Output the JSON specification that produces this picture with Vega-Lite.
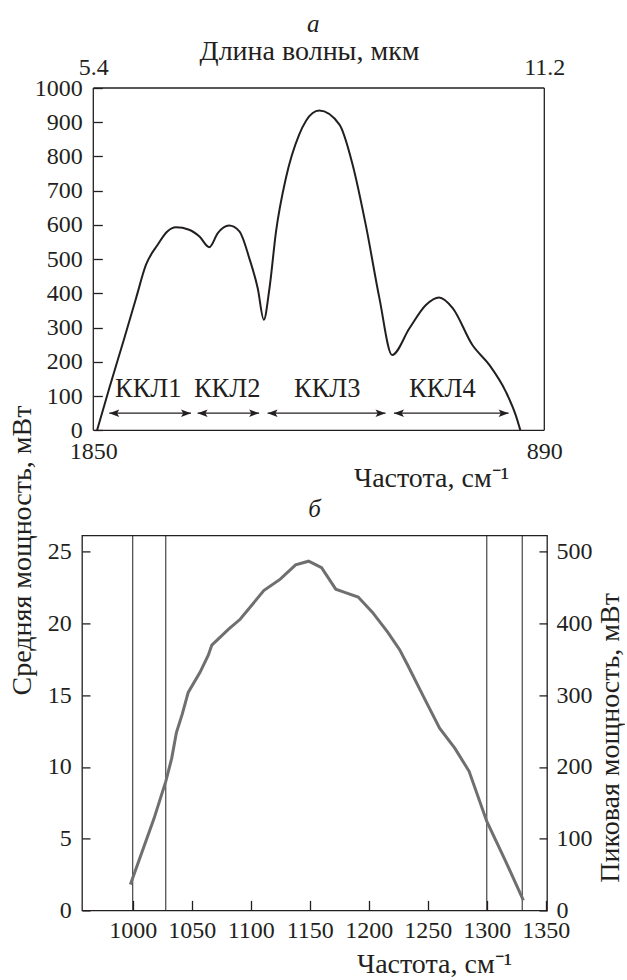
{
  "$schema": "https://vega.github.io/schema/vega-lite/v6.json",
  "background": "white",
  "padding": {"left": 8, "top": 12, "right": 0, "bottom": 0},
  "bounds": "flush",
  "spacing": 104.4,
  "config": {
    "font": "Liberation Serif",
    "view": {"stroke": null},
    "axis": {
      "labelFont": "Liberation Serif", "titleFont": "Liberation Serif",
      "labelFontSize": 24, "titleFontSize": 28, "titleFontWeight": "normal",
      "labelColor": "#231f20", "titleColor": "#231f20",
      "grid": false, "labelFlush": false, "labelOverlap": false, "format": "d"
    },
    "title": {"font": "Liberation Serif", "fontSize": 25, "fontWeight": "normal", "fontStyle": "italic", "color": "#231f20"}
  },
  "vconcat": [
    {
      "width": 462.3,
      "height": 342.3,
      "title": {"text": "а", "offset": 0},
      "encoding": {
        "y": {"type": "quantitative",
          "scale": {"domain": [0, 1000], "nice": false, "zero": true},
          "axis": {"values": [0, 100, 200, 300, 400, 500, 600, 700, 800, 900, 1000], "tickCount": 11, "format": "d", "labelOverlap": false, "domain": false,
            "ticks": true, "tickSize": 9, "tickWidth": 1.3, "tickColor": "#231f20", "tickOpacity": 1, "labelPadding": 11, "offset": -20.3,
            "title": "Средняя мощность, мВт", "titleAngle": -90, "titleX": -72, "titleY": 462, "titleAlign": "center", "titleBaseline": "alphabetic"}}
      },
      "layer": [
        {
          "data": {"values": [
            {"x1": 1850, "x2": 1850, "y1": 0, "y2": 1000},
            {"x1": 1850, "x2": 890, "y1": 1000, "y2": 1000},
            {"x1": 890, "x2": 890, "y1": 0, "y2": 1000},
            {"x1": 1850, "x2": 890, "y1": 0, "y2": 0}
          ]},
          "mark": {"type": "rule", "color": "#231f20", "strokeWidth": 1.3},
          "encoding": {
            "x": {"field": "x1", "type": "quantitative",
              "scale": {"domain": [890, 1874.05], "reverse": true, "nice": false, "zero": false},
              "axis": {"orient": "bottom", "values": [1850, 890], "format": "d", "ticks": false, "domain": false, "labelPadding": 9, "labelOverlap": false,
                "title": "Частота, см⁻¹", "titleX": 349, "titleY": 56, "titleBaseline": "alphabetic", "titleAlign": "center"}},
            "x2": {"field": "x2"},
            "y": {"field": "y1"},
            "y2": {"field": "y2"}
          }
        },
        {
          "data": {"values": [
            {"f": 1842, "v": 0}, {"f": 1816, "v": 123}, {"f": 1784, "v": 269}, {"f": 1759, "v": 386},
            {"f": 1738, "v": 483}, {"f": 1713, "v": 542}, {"f": 1693, "v": 580}, {"f": 1674, "v": 593},
            {"f": 1646, "v": 586}, {"f": 1624, "v": 566}, {"f": 1603, "v": 535}, {"f": 1585, "v": 576},
            {"f": 1561, "v": 598}, {"f": 1539, "v": 581}, {"f": 1518, "v": 503}, {"f": 1500, "v": 415},
            {"f": 1487, "v": 323}, {"f": 1475, "v": 415}, {"f": 1461, "v": 581}, {"f": 1440, "v": 737},
            {"f": 1412, "v": 863}, {"f": 1383, "v": 927}, {"f": 1369, "v": 934}, {"f": 1326, "v": 893},
            {"f": 1298, "v": 776}, {"f": 1270, "v": 600}, {"f": 1241, "v": 386}, {"f": 1214, "v": 220},
            {"f": 1177, "v": 298}, {"f": 1142, "v": 366}, {"f": 1114, "v": 388}, {"f": 1085, "v": 357},
            {"f": 1043, "v": 249}, {"f": 1007, "v": 191}, {"f": 972, "v": 113}, {"f": 951, "v": 45},
            {"f": 941, "v": 0}
          ]},
          "mark": {"type": "line", "color": "#231f20", "strokeWidth": 2, "interpolate": "monotone"},
          "encoding": {
            "x": {"field": "f", "type": "quantitative",
              "axis": {"orient": "top", "values": [1850, 890], "labelExpr": "datum.value == 1850 ? '5.4' : '11.2'", "ticks": false, "domain": false, "labelPadding": 9, "labelOverlap": false,
                "title": "Длина волны, мкм", "titleX": 227, "titleY": -29, "titleBaseline": "alphabetic", "titleAlign": "center"}},
            "y": {"field": "v"}
          }
        },
        {
          "data": {"name": "arrows", "values": [
            {"f1": 1816, "f2": 1642, "lab": "ККЛ1", "lx": 1733, "ya": 50, "yt": 120},
            {"f1": 1628, "f2": 1497, "lab": "ККЛ2", "lx": 1565, "ya": 50, "yt": 120},
            {"f1": 1479, "f2": 1228, "lab": "ККЛ3", "lx": 1352, "ya": 50, "yt": 120},
            {"f1": 1210, "f2": 966, "lab": "ККЛ4", "lx": 1107, "ya": 50, "yt": 120}
          ]},
          "layer": [
            {
              "mark": {"type": "rule", "color": "#231f20", "strokeWidth": 1.3},
              "encoding": {
                "x": {"field": "f1", "type": "quantitative", "axis": null},
                "x2": {"field": "f2"},
                "y": {"field": "ya"}
              }
            },
            {
              "mark": {"type": "point", "shape": "M0,0L1.6,-0.6L1.25,0L1.6,0.6Z", "size": 156, "filled": true, "opacity": 1, "color": "#231f20", "strokeWidth": 0},
              "encoding": {
                "x": {"field": "f1", "type": "quantitative", "axis": null},
                "y": {"field": "ya"}
              }
            },
            {
              "mark": {"type": "point", "shape": "M0,0L-1.6,-0.6L-1.25,0L-1.6,0.6Z", "size": 156, "filled": true, "opacity": 1, "color": "#231f20", "strokeWidth": 0},
              "encoding": {
                "x": {"field": "f2", "type": "quantitative", "axis": null},
                "y": {"field": "ya"}
              }
            },
            {
              "mark": {"type": "text", "font": "Liberation Serif", "fontSize": 26.5, "color": "#231f20", "baseline": "middle", "align": "center"},
              "encoding": {
                "x": {"field": "lx", "type": "quantitative", "axis": null},
                "y": {"field": "yt"},
                "text": {"field": "lab"}
              }
            }
          ]
        }
      ],
      "resolve": {"axis": {"x": "independent"}}
    },
    {
      "width": 465,
      "height": 375,
      "title": {"text": "б", "offset": 13, "frame": "group"},
      "view": {"stroke": "#231f20", "strokeWidth": 1.3},
      "layer": [
        {
          "data": {"values": [{"x": 1000}, {"x": 1028}, {"x": 1300}, {"x": 1330}]},
          "mark": {"type": "rule", "color": "#231f20", "strokeWidth": 1},
          "encoding": {
            "x": {"field": "x", "type": "quantitative",
              "scale": {"domain": [957, 1351], "nice": false, "zero": false},
              "axis": {"values": [1000, 1050, 1100, 1150, 1200, 1250, 1300, 1350], "format": "d", "labelOverlap": false,
                "ticks": true, "tickSize": 10, "tickWidth": 1.3, "tickColor": "#231f20", "tickOpacity": 1, "offset": -10, "labelPadding": 8, "domain": false,
                "title": "Частота, см⁻¹", "titleX": 352, "titleY": 72, "titleBaseline": "alphabetic", "titleAlign": "center"}}
          }
        },
        {
          "data": {"name": "curve2", "values": [
            {"x": 998, "avg": 1.8, "peak": 36}, {"x": 1008, "avg": 4.1, "peak": 82}, {"x": 1018, "avg": 6.4, "peak": 128},
            {"x": 1028, "avg": 9.0, "peak": 180}, {"x": 1033, "avg": 10.6, "peak": 212}, {"x": 1037, "avg": 12.4, "peak": 248},
            {"x": 1042, "avg": 13.7, "peak": 274}, {"x": 1047, "avg": 15.2, "peak": 304}, {"x": 1057, "avg": 16.6, "peak": 332},
            {"x": 1064, "avg": 17.8, "peak": 356}, {"x": 1067, "avg": 18.5, "peak": 370}, {"x": 1081, "avg": 19.6, "peak": 392},
            {"x": 1091, "avg": 20.3, "peak": 406}, {"x": 1104, "avg": 21.6, "peak": 432}, {"x": 1111, "avg": 22.3, "peak": 446},
            {"x": 1125, "avg": 23.1, "peak": 462}, {"x": 1138, "avg": 24.1, "peak": 482}, {"x": 1149, "avg": 24.35, "peak": 487},
            {"x": 1160, "avg": 23.9, "peak": 478}, {"x": 1172, "avg": 22.4, "peak": 448}, {"x": 1179, "avg": 22.2, "peak": 444},
            {"x": 1191, "avg": 21.85, "peak": 437}, {"x": 1203, "avg": 20.8, "peak": 416}, {"x": 1216, "avg": 19.4, "peak": 388},
            {"x": 1226, "avg": 18.2, "peak": 364}, {"x": 1233, "avg": 17.1, "peak": 342}, {"x": 1247, "avg": 14.8, "peak": 296},
            {"x": 1260, "avg": 12.7, "peak": 254}, {"x": 1273, "avg": 11.3, "peak": 226}, {"x": 1285, "avg": 9.7, "peak": 194},
            {"x": 1300, "avg": 6.2, "peak": 124}, {"x": 1315, "avg": 3.6, "peak": 72}, {"x": 1331, "avg": 0.7, "peak": 14}
          ]},
          "layer": [
            {
              "mark": {"type": "line", "color": "#6f6f6f", "strokeWidth": 3},
              "encoding": {
                "x": {"field": "x", "type": "quantitative",
                  "axis": {"values": [1000, 1050, 1100, 1150, 1200, 1250, 1300, 1350], "format": "d", "labelOverlap": false,
                    "ticks": true, "tickSize": 10, "tickWidth": 1.3, "tickColor": "#231f20", "tickOpacity": 1, "offset": -10, "labelPadding": 8, "domain": false,
                    "title": "Частота, см⁻¹", "titleX": 352, "titleY": 72, "titleBaseline": "alphabetic", "titleAlign": "center"}},
                "y": {"field": "avg", "type": "quantitative",
                  "scale": {"domain": [0, 26.15], "nice": false},
                  "axis": {"values": [0, 5, 10, 15, 20, 25], "format": "d", "labelOverlap": false,
                    "ticks": true, "tickSize": 8, "tickWidth": 1.3, "tickColor": "#231f20", "tickOpacity": 1, "offset": -8, "labelPadding": 10.7, "domain": false, "title": null}}
              }
            },
            {
              "mark": {"type": "line", "color": "#6f6f6f", "strokeWidth": 3, "strokeOpacity": 0},
              "encoding": {
                "x": {"field": "x", "type": "quantitative",
                  "axis": {"values": [1000, 1050, 1100, 1150, 1200, 1250, 1300, 1350], "format": "d", "labelOverlap": false,
                    "ticks": true, "tickSize": 10, "tickWidth": 1.3, "tickColor": "#231f20", "tickOpacity": 1, "offset": -10, "labelPadding": 8, "domain": false,
                    "title": "Частота, см⁻¹", "titleX": 352, "titleY": 72, "titleBaseline": "alphabetic", "titleAlign": "center"}},
                "y": {"field": "peak", "type": "quantitative",
                  "scale": {"domain": [0, 523], "nice": false},
                  "axis": {"orient": "right", "values": [0, 100, 200, 300, 400, 500], "format": "d", "labelOverlap": false,
                    "ticks": true, "tickSize": 8, "tickWidth": 1.3, "tickColor": "#231f20", "tickOpacity": 1, "offset": -8, "labelPadding": 9, "domain": false,
                    "title": "Пиковая мощность, мВт", "titleAngle": -90, "titleX": 79, "titleY": 202, "titleAlign": "center", "titleBaseline": "alphabetic"}}
              }
            }
          ],
          "resolve": {"scale": {"y": "independent"}, "axis": {"y": "independent"}}
        }
      ],
      "resolve": {"scale": {"y": "independent"}, "axis": {"y": "independent"}}
    }
  ]
}
